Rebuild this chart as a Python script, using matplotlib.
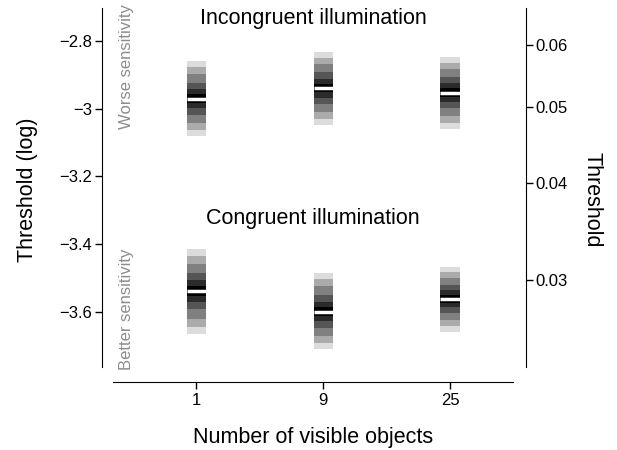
import numpy as np
import matplotlib
matplotlib.use('Agg')
import matplotlib.pyplot as plt

plt.rcParams['font.family'] = ['Liberation Sans', 'DejaVu Sans']

# number of visible objects
groups = ['1', '9', '25']

# log threshold: lower end of 95% interval, median, upper end
incong_lo = [-3.080, -3.048, -3.060]
incong_med = [-2.971, -2.939, -2.953]
incong_hi = [-2.859, -2.832, -2.847]

cong_lo = [-3.664, -3.709, -3.658]
cong_med = [-3.537, -3.599, -3.561]
cong_hi = [-3.414, -3.484, -3.466]

# credible interval bands, widest (95%) to narrowest (20%), as share of 95% half width
band_levels = [95, 90, 80, 60, 40, 20]
band_scale = [1.0, 0.84, 0.65, 0.43, 0.26, 0.12]
band_colors = ['#dcdcdc', '#ababab', '#808080', '#555555', '#2b2b2b', '#000000']

right_ticks = [0.06, 0.05, 0.04, 0.03]
left_ticks = [-2.8, -3.0, -3.2, -3.4, -3.6]

fig = plt.figure(figsize=(6.17, 4.5), dpi=100)
ax = fig.add_axes([113/617, 83/450, 400/617, 359/450])

x = np.arange(len(groups))
w = 0.15

def draw_strips(lo, med, hi):
    lo = np.array(lo); med = np.array(med); hi = np.array(hi)
    for s, c in zip(band_scale, band_colors):
        top = med + s * (hi - med)
        bot = med - s * (med - lo)
        ax.bar(x, top - bot, bottom=bot, width=w, color=c, linewidth=0)
    ax.hlines(med, x - w/2, x + w/2, colors='white', linewidth=2.5)

draw_strips(incong_lo, incong_med, incong_hi)
draw_strips(cong_lo, cong_med, cong_hi)

ax.set_xlim(-0.654, 2.496)
ax.set_ylim(-3.762, -2.703)
ax.set_xticks(x)
ax.set_xticklabels(groups)
ax.set_yticks(left_ticks)
ax.set_yticklabels(['\u22122.8', '\u22123', '\u22123.2', '\u22123.4', '\u22123.6'])
ax.tick_params(labelsize=12, length=5, width=1)
ax.tick_params(axis='y', pad=2)
ax.tick_params(axis='x', pad=2.5)

ax.spines['top'].set_visible(False)
ax.spines['right'].set_visible(False)
ax.spines['left'].set_position(('outward', 8))
ax.spines['bottom'].set_position(('outward', 11))

ax2 = ax.twinx()
ax2.set_ylim(ax.get_ylim())
ax2.set_yticks(np.log(right_ticks))
ax2.set_yticklabels([f'{t:.2f}' for t in right_ticks])
ax2.tick_params(labelsize=12, length=5, width=1, pad=2)
for s in ['top', 'left', 'bottom']:
    ax2.spines[s].set_visible(False)
ax2.spines['right'].set_position(('outward', 9))

ax.text(0.5, 0.97, 'Incongruent illumination', transform=ax.transAxes,
        ha='center', va='center', fontsize=15.5)
ax.text(0.5, 0.415, 'Congruent illumination', transform=ax.transAxes,
        ha='center', va='center', fontsize=15.5)
ax.text(0.0325, 1.01, 'Worse sensitivity', transform=ax.transAxes, rotation=90,
        ha='center', va='top', fontsize=12, color='#8c8c8c')
ax.text(0.0325, -0.008, 'Better sensitivity', transform=ax.transAxes, rotation=90,
        ha='center', va='bottom', fontsize=12, color='#8c8c8c')

fig.text(27/617, 1 - 190/450, 'Threshold (log)', rotation=90, ha='center', va='center', fontsize=15.5)
fig.text(592/617, 1 - 200/450, 'Threshold', rotation=270, ha='center', va='center', fontsize=15.5)
fig.text(313/617, 1 - 437/450, 'Number of visible objects', ha='center', va='center', fontsize=15.5)

fig.savefig('out.png', dpi=100)
